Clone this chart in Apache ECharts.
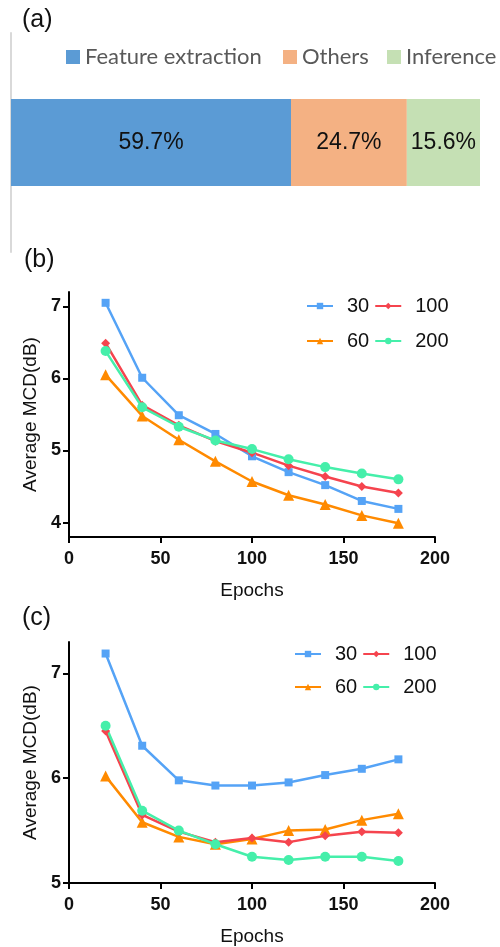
<!DOCTYPE html>
<html>
<head>
<meta charset="utf-8">
<script src="https://cdn.jsdelivr.net/npm/echarts@6/dist/echarts.min.js"></script>
<style>
html,body{margin:0;padding:0;background:#fff;}
#chart{width:500px;height:947px;}
</style>
</head>
<body>
<div id="chart"></div>
<script>
// ---- Data ----
var shareNames = ['Feature extraction', 'Others', 'Inference'];
var shareValues = [59.7, 24.7, 15.6];

var epochs = [20, 40, 60, 80, 100, 120, 140, 160, 180];
var seriesNames = ['30', '60', '100', '200'];

// panel (b)
var b30  = [7.05, 6.01, 5.49, 5.23, 4.92, 4.70, 4.52, 4.30, 4.19];
var b60  = [6.05, 5.48, 5.15, 4.85, 4.57, 4.38, 4.25, 4.10, 3.99];
var b100 = [6.49, 5.63, 5.35, 5.13, 4.97, 4.79, 4.64, 4.50, 4.41];
var b200 = [6.38, 5.60, 5.33, 5.14, 5.02, 4.88, 4.77, 4.68, 4.60];

// panel (c)
var c30  = [7.19, 6.31, 5.98, 5.93, 5.93, 5.96, 6.03, 6.09, 6.18];
var c60  = [6.02, 5.58, 5.44, 5.37, 5.42, 5.50, 5.51, 5.60, 5.66];
var c100 = [6.45, 5.65, 5.49, 5.39, 5.43, 5.39, 5.45, 5.49, 5.48];
var c200 = [6.50, 5.69, 5.50, 5.37, 5.25, 5.22, 5.25, 5.25, 5.21];

var xTicks = [0, 50, 100, 150, 200];
var bYTicks = [4, 5, 6, 7];
var cYTicks = [5, 6, 7];

// ---- Styles ----
var barColors = ['#5b9bd5', '#f4b183', '#c5e0b4'];
var lineColors = {'30': '#55a3f6', '60': '#ff8a00', '100': '#f5444e', '200': '#45efaa'};
var lineSymbols = {'30': 'rect', '60': 'triangle', '100': 'diamond', '200': 'circle'};
var symbolSizes = {'30': 8, '60': 11, '100': 9, '200': 10};
var shareLegendLeft = [66, 283, 387];

function pairs(vals) { return epochs.map(function (e, i) { return [e, vals[i]]; }); }

var chart = echarts.init(document.getElementById('chart'), null, {renderer: 'canvas'});

var series = [];
shareNames.forEach(function (n, i) {
  series.push({
    name: n, type: 'bar', stack: 'total', xAxisIndex: 0, yAxisIndex: 0,
    data: [shareValues[i]], barWidth: 87,
    itemStyle: {color: barColors[i]},
    label: {show: true, position: 'inside', formatter: function (p) { return p.value.toFixed(1) + '%'; },
      color: '#111', fontSize: 23, fontFamily: 'Liberation Sans'},
    emphasis: {disabled: true}, silent: true
  });
});

function addLines(dataSets, axisIdx) {
  seriesNames.forEach(function (n, i) {
    series.push({
      name: n, type: 'line', xAxisIndex: axisIdx, yAxisIndex: axisIdx,
      data: pairs(dataSets[i]),
      symbol: lineSymbols[n], symbolSize: symbolSizes[n],
      lineStyle: {color: lineColors[n], width: 2.5},
      itemStyle: {color: lineColors[n]},
      showAllSymbol: true, silent: true, animation: false
    });
  });
}
addLines([b30, b60, b100, b200], 1);
addLines([c30, c60, c100, c200], 2);

function xAxisDef(gridIndex) {
  return {
    type: 'value', gridIndex: gridIndex, min: 0, max: 200, interval: 50,
    name: 'Epochs', nameLocation: 'middle', nameGap: 44,
    nameTextStyle: {fontSize: 19, color: '#111', fontFamily: 'Liberation Sans'},
    axisLine: {show: true, lineStyle: {color: '#000', width: 2}},
    axisTick: {show: true, length: 6, lineStyle: {color: '#000', width: 2}},
    axisLabel: {fontSize: 18, fontWeight: 'bold', color: '#111', margin: 13, fontFamily: 'Liberation Sans'},
    splitLine: {show: false}
  };
}
function yAxisDef(gridIndex, min, max, ticks) {
  return {
    type: 'value', gridIndex: gridIndex, min: min, max: max,
    name: 'Average MCD(dB)', nameLocation: 'middle', nameGap: 27,
    nameTextStyle: {fontSize: 19, color: '#111', fontFamily: 'Liberation Sans'},
    axisLine: {show: true, lineStyle: {color: '#000', width: 2}},
    axisTick: {show: true, length: 6, lineStyle: {color: '#000', width: 2}, customValues: ticks},
    axisLabel: {fontSize: 18, fontWeight: 'bold', color: '#111', margin: 8, fontFamily: 'Liberation Sans', customValues: ticks},
    splitLine: {show: false}
  };
}

function lineLegend(names, left, top) {
  return {
    data: names, left: left, top: top, orient: 'horizontal',
    itemWidth: 26, itemHeight: 8, itemGap: 5,
    textStyle: {fontSize: 20, color: '#111', fontFamily: 'Liberation Sans', padding: [0, 0, 0, 9]},
    selectedMode: false
  };
}

var legends = shareNames.map(function (n, i) {
  return {data: [n], left: shareLegendLeft[i], top: 46, itemWidth: 14, itemHeight: 14, icon: 'rect',
    textStyle: {fontSize: 22, color: '#595959', fontFamily: 'Lato'}, selectedMode: false, padding: 0};
});
legends.push(lineLegend(['30', '100'], 301, 291));
legends.push(lineLegend(['60', '200'], 301, 326));
legends.push(lineLegend(['30', '100'], 289, 639));
legends.push(lineLegend(['60', '200'], 289, 672));

var option = {
  animation: false,
  backgroundColor: '#fff',
  grid: [
    {left: 11, right: 20, top: 33, height: 219},
    {left: 69, width: 366, top: 292, height: 245},
    {left: 69, width: 366, top: 642, height: 244}
  ],
  xAxis: [
    {type: 'value', gridIndex: 0, min: 0, max: 100, show: false},
    xAxisDef(1),
    xAxisDef(2)
  ],
  yAxis: [
    {type: 'category', gridIndex: 0, data: [''],
     axisLine: {show: true, lineStyle: {color: '#d9d9d9', width: 2}},
     axisTick: {show: false}, axisLabel: {show: false}},
    yAxisDef(1, 3.8, 7.2, bYTicks),
    yAxisDef(2, 5, 7.3, cYTicks)
  ],
  legend: legends,
  graphic: [
    {type: 'text', left: 22, top: 8, style: {text: '(a)', fontSize: 25, fill: '#111', fontFamily: 'Liberation Sans'}},
    {type: 'text', left: 24, top: 248, style: {text: '(b)', fontSize: 25, fill: '#111', fontFamily: 'Liberation Sans'}},
    {type: 'text', left: 22, top: 606, style: {text: '(c)', fontSize: 25, fill: '#111', fontFamily: 'Liberation Sans'}}
  ],
  series: series
};
chart.setOption(option);
</script>
</body>
</html>
